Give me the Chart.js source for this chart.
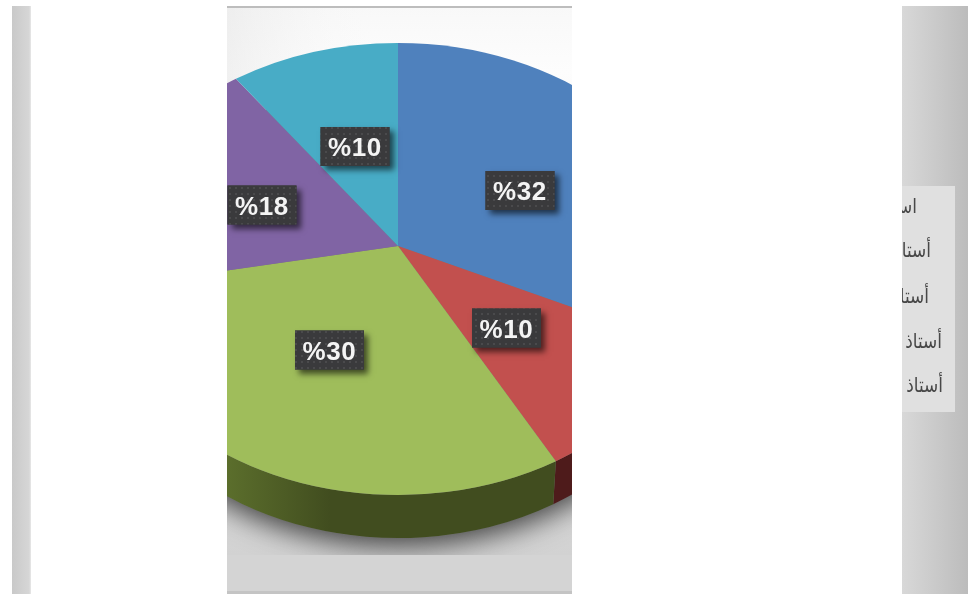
<!DOCTYPE html>
<html lang="ar">
<head>
<meta charset="utf-8">
<style>html,body{margin:0;padding:0;background:#fff;overflow:hidden}canvas{display:block}</style>
<script src="https://cdn.jsdelivr.net/npm/chart.js@4/dist/chart.umd.min.js"></script>
</head>
<body>
<canvas id="c" width="968" height="594"></canvas>
<script>
const categories = ['استاذ', 'أستاذ', 'أستاذ', 'أستاذ', 'أستاذ'];
const sliceValues = [32, 10, 30, 18, 10];
const faceColors = ['#4f81bd', '#c2504e', '#9fbd5b', '#8064a4', '#48acc6'];
const wallColors = ['#2a4669', '#4e1b1b', '#414d1f', '#443458', '#266070'];

const panel = {l: 227, r: 572, t: 6, b: 594};
const aspectX = 300 / 226, apexLift = 23, depth = 43, wallRx = 295;
const labelCentres = [[520, 190.5], [506.5, 328], [329.5, 350], [262, 205], [355, 146.5]];
const legendRows = [[917, 213], [931, 257], [929, 303], [942, 348], [943, 392]];

function dotPattern(ctx) {
  const p = document.createElement('canvas');
  p.width = 6; p.height = 6;
  const g = p.getContext('2d');
  g.fillStyle = '#3a3a3c'; g.fillRect(0, 0, 6, 6);
  g.fillStyle = '#4a4a4c'; g.fillRect(1, 1, 2, 2);
  return ctx.createPattern(p, 'repeat');
}

// The library's slice angle, seen in perspective: returns the matching angle on the rim ellipse.
function rimAngle(angle, ry) {
  const k = -apexLift / ry, sk = Math.sqrt(1 - k * k);
  const d = 1 + k * Math.sin(angle);
  const px = sk * Math.cos(angle) / d;
  const py = sk * sk * Math.sin(angle) / d + k;
  return Math.atan2(py, px);
}

const perspectivePie = {
  id: 'perspectivePie',
  beforeDraw(chart) {
    const c = chart.ctx;
    c.save();
    c.fillStyle = '#fff'; c.fillRect(0, 0, 968, 594);
    let g = c.createLinearGradient(12, 0, 31, 0);
    g.addColorStop(0, '#c9c9c9'); g.addColorStop(0.9, '#d6d6d6'); g.addColorStop(1, '#e8e8e8');
    c.fillStyle = g; c.fillRect(12, 6, 19, 588);
    g = c.createLinearGradient(902, 0, 968, 0);
    g.addColorStop(0, '#d8d8d8'); g.addColorStop(1, '#bcbcbc');
    c.fillStyle = g; c.fillRect(902, 6, 66, 588);
    c.fillStyle = '#e0e0e0'; c.fillRect(902, 186, 53, 226);
    g = c.createLinearGradient(0, panel.t, 0, 555);
    g.addColorStop(0, '#f8f8f8'); g.addColorStop(0.12, '#fdfdfd'); g.addColorStop(1, '#d2d2d2');
    c.fillStyle = g; c.fillRect(panel.l, panel.t, panel.r - panel.l, panel.b - panel.t);
    g = c.createLinearGradient(panel.l, 0, panel.r, 0);
    g.addColorStop(0, 'rgba(225,225,225,.45)'); g.addColorStop(0.5, 'rgba(255,255,255,0)');
    c.fillStyle = g; c.fillRect(panel.l, panel.t, panel.r - panel.l, 90);
    c.fillStyle = '#bdbdbd'; c.fillRect(panel.l, 6, panel.r - panel.l, 2);
    c.fillStyle = '#d4d4d4'; c.fillRect(panel.l, 555, panel.r - panel.l, 36);
    c.fillStyle = '#c4c4c4'; c.fillRect(panel.l, 591, panel.r - panel.l, 3);
    c.restore();
  },
  beforeDatasetDraw(chart, args) {
    const c = chart.ctx, arcs = chart.getDatasetMeta(args.index).data;
    const cx = arcs[0].x, cy = arcs[0].y, ry = arcs[0].outerRadius, rx = ry * aspectX;
    c.save();
    c.beginPath(); c.rect(panel.l, panel.t, panel.r - panel.l, panel.b - panel.t); c.clip();
    // soft shadow under the pie
    c.save();
    c.beginPath(); c.rect(panel.l, panel.t, panel.r - panel.l, 555 - panel.t); c.clip();
    c.shadowColor = 'rgba(0,0,0,.7)'; c.shadowBlur = 28; c.shadowOffsetY = 8;
    c.fillStyle = '#777';
    c.beginPath(); c.ellipse(cx, cy + depth, wallRx, ry, 0, 0, Math.PI * 2); c.fill();
    c.restore();
    // side wall
    arcs.forEach((a, i) => {
      let s = rimAngle(a.startAngle, ry), e = rimAngle(a.endAngle, ry);
      if (e <= s) e += Math.PI * 2;
      s = Math.max(s, 0); e = Math.min(e, Math.PI);
      if (e <= s) return;
      c.beginPath();
      c.ellipse(cx, cy, rx, ry, 0, s, e);
      c.ellipse(cx, cy + depth, wallRx, ry, 0, e, s, true);
      c.closePath();
      const w = chart.data.datasets[args.index].wallColors[i];
      if (i === 2) {
        const g = c.createLinearGradient(panel.l, 0, 330, 0);
        g.addColorStop(0, '#5b6e2c'); g.addColorStop(1, w);
        c.fillStyle = g;
      } else c.fillStyle = w;
      c.fill();
    });
    // faces
    arcs.forEach(a => {
      c.beginPath();
      c.moveTo(cx, cy - apexLift);
      c.ellipse(cx, cy, rx, ry, 0, rimAngle(a.startAngle, ry), rimAngle(a.endAngle, ry));
      c.closePath();
      c.fillStyle = a.options.backgroundColor;
      c.fill();
    });
    c.restore();
    return false;
  },
  afterDraw(chart) {
    const c = chart.ctx, pat = dotPattern(c);
    c.save();
    c.beginPath(); c.rect(panel.l, panel.t, panel.r - panel.l, panel.b - panel.t); c.clip();
    c.textAlign = 'center'; c.textBaseline = 'middle';
    c.font = 'bold 26px "Liberation Sans", Arial, sans-serif';
    c.letterSpacing = '0.6px';
    chart.data.datasets[0].data.forEach((v, i) => {
      const [x, y] = labelCentres[i];
      c.save();
      c.shadowColor = 'rgba(0,0,0,.6)'; c.shadowBlur = 6; c.shadowOffsetX = 4; c.shadowOffsetY = 4;
      c.fillStyle = '#3a3a3c'; c.fillRect(x - 34.5, y - 19.5, 69, 39);
      c.restore();
      c.fillStyle = pat; c.fillRect(x - 34.5, y - 19.5, 69, 39);
      c.fillStyle = '#f4f4f4';
      c.fillText('%' + v, x, y + 2.5);
    });
    c.restore();
    c.save();
    c.beginPath(); c.rect(902, 186, 53, 226); c.clip();
    c.fillStyle = '#484848';
    c.font = '17px "DejaVu Sans", sans-serif';
    c.textBaseline = 'alphabetic'; c.direction = 'rtl'; c.textAlign = 'right';
    chart.data.labels.forEach((t, i) => {
      c.save();
      c.translate(legendRows[i][0], legendRows[i][1]);
      c.scale(1, 1.2);
      c.fillText(t, 0, 0);
      c.restore();
    });
    c.restore();
  }
};

new Chart(document.getElementById('c'), {
  type: 'pie',
  data: {
    labels: categories,
    datasets: [{data: sliceValues, backgroundColor: faceColors, wallColors: wallColors, borderWidth: 0}]
  },
  options: {
    responsive: false,
    animation: false,
    radius: 226,
    layout: {padding: {left: 0, top: 0, right: 172, bottom: 56}},
    plugins: {legend: {display: false}, tooltip: {enabled: false}, title: {display: false}}
  },
  plugins: [perspectivePie]
});
</script>
</body>
</html>
